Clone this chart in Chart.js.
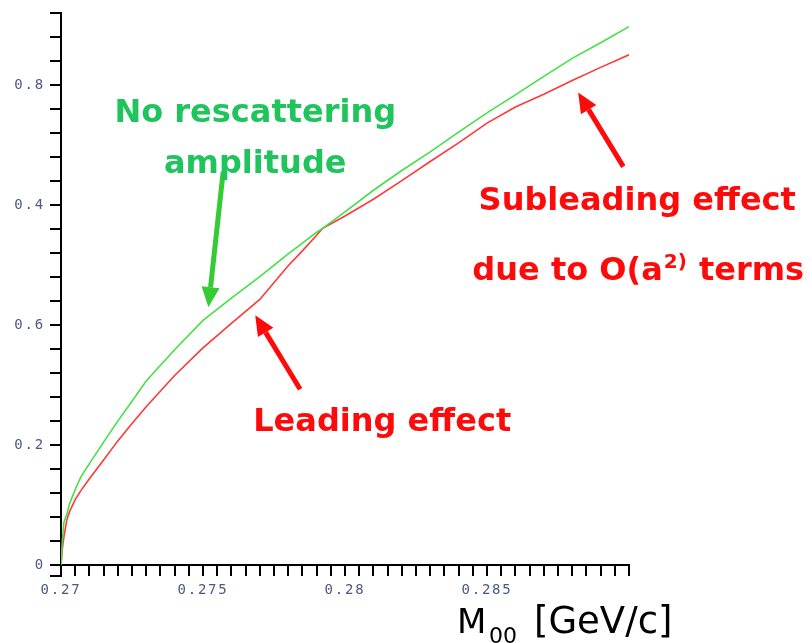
<!DOCTYPE html>
<html>
<head>
<meta charset="utf-8">
<script src="https://cdn.jsdelivr.net/npm/chart.js@4.4.1/dist/chart.umd.min.js"></script>
<style>
  html, body { margin: 0; padding: 0; background: #ffffff; }
  #wrap { width: 812px; height: 643px; }
</style>
</head>
<body>
<div id="wrap"><canvas id="grafico"></canvas></div>
<script>
// masa invariante M00 [GeV/c]
var masas = [0.27, 0.27005, 0.2701, 0.2702, 0.2703, 0.2705, 0.2707, 0.271, 0.2715, 0.272, 0.2725,
             0.273, 0.274, 0.275, 0.276, 0.277, 0.278, 0.2785, 0.279, 0.2792, 0.28, 0.281, 0.282,
             0.283, 0.284, 0.285, 0.286, 0.287, 0.288, 0.289, 0.29];

// sin amplitud de reescattering (verde)
var sinReesc = [0, 0.041, 0.071, 0.084, 0.102, 0.126, 0.147, 0.169, 0.205, 0.240, 0.273,
                0.307, 0.359, 0.408, 0.445, 0.481, 0.519, 0.537, 0.555, 0.561, 0.589, 0.625, 0.658,
                0.689, 0.722, 0.754, 0.784, 0.815, 0.845, 0.871, 0.898];

// efecto dominante + subdominante O(a^2) (rojo)
var conReesc = [0, 0.028, 0.046, 0.074, 0.089, 0.109, 0.124, 0.144, 0.175, 0.207, 0.236,
                0.264, 0.316, 0.362, 0.403, 0.443, 0.499, 0.524, 0.550, 0.561, 0.582, 0.610, 0.641,
                0.673, 0.704, 0.737, 0.764, 0.785, 0.808, 0.830, 0.851];

var ticksX = [0.27, 0.275, 0.28, 0.285];          // marcas con texto en X
var ticksY = [0, 0.2, 0.4, 0.6, 0.8];              // posiciones con texto en Y
var etiquetasY = ['0', '0.2', '0.6', '0.4', '0.8']; // texto tal cual aparece en el eje

var VERDE_TXT = '#1fc45c';
var VERDE_FLECHA = '#33cc33';
var ROJO = '#ff0a0a';

// notas y flechas en coordenadas de datos
var notas = [
  { texto: 'No rescattering', x: 0.27684, y: 0.739, color: VERDE_TXT },
  { texto: 'amplitude',       x: 0.27684, y: 0.653, color: VERDE_TXT },
  { texto: 'Subleading effect', x: 0.29029, y: 0.592, color: ROJO },
  { texto: 'Leading effect',  x: 0.28131, y: 0.223, color: ROJO }
];
var flechas = [
  { desde: [0.27571, 0.656], hasta: [0.27519, 0.430], color: VERDE_FLECHA },
  { desde: [0.27842, 0.293], hasta: [0.27684, 0.4165], color: ROJO },
  { desde: [0.2898, 0.6645], hasta: [0.28821, 0.788], color: ROJO }
];

function puntos(ys) {
  return masas.map(function (m, i) { return { x: m, y: ys[i] }; });
}

function cerca(lista, v) {
  for (var i = 0; i < lista.length; i++) {
    if (Math.abs(lista[i] - v) < 1e-7) return i;
  }
  return -1;
}

function flecha(ctx, x0, y0, x1, y1, color) {
  var ang = Math.atan2(y1 - y0, x1 - x0);
  var largo = 20, ancho = 9;
  var bx = x1 - largo * Math.cos(ang), by = y1 - largo * Math.sin(ang);
  ctx.strokeStyle = color;
  ctx.fillStyle = color;
  ctx.lineWidth = 5;
  ctx.lineCap = 'butt';
  ctx.beginPath();
  ctx.moveTo(x0, y0);
  ctx.lineTo(bx, by);
  ctx.stroke();
  ctx.beginPath();
  ctx.moveTo(x1, y1);
  ctx.lineTo(bx + ancho * Math.sin(ang), by - ancho * Math.cos(ang));
  ctx.lineTo(bx - ancho * Math.sin(ang), by + ancho * Math.cos(ang));
  ctx.closePath();
  ctx.fill();
}

var anotaciones = {
  id: 'anotaciones',
  beforeDraw: function (chart) { chart.ctx.letterSpacing = '1.8px'; },
  afterDraw: function (chart) {
    var ctx = chart.ctx;
    var sx = chart.scales.x, sy = chart.scales.y;
    var area = chart.chartArea;
    ctx.save();
    ctx.letterSpacing = '0px';

    // el eje Y sobresale un poco por debajo del eje X
    ctx.strokeStyle = '#000';
    ctx.lineWidth = 2;
    ctx.beginPath();
    ctx.moveTo(area.left, area.bottom);
    ctx.lineTo(area.left, area.bottom + 12);
    ctx.moveTo(area.left - 11, area.bottom + 11);
    ctx.lineTo(area.left, area.bottom + 11);
    ctx.stroke();

    flechas.forEach(function (f) {
      flecha(ctx, sx.getPixelForValue(f.desde[0]), sy.getPixelForValue(f.desde[1]),
             sx.getPixelForValue(f.hasta[0]), sy.getPixelForValue(f.hasta[1]), f.color);
    });

    ctx.font = 'bold 32px "DejaVu Sans"';
    ctx.textBaseline = 'alphabetic';
    ctx.textAlign = 'center';
    notas.forEach(function (n) {
      ctx.fillStyle = n.color;
      ctx.fillText(n.texto, sx.getPixelForValue(n.x), sy.getPixelForValue(n.y));
    });

    // "due to O(a²) terms" con superindice
    var cx = sx.getPixelForValue(0.29029), by = sy.getPixelForValue(0.476);
    var p1 = 'due to O(a', p2 = '2)', p3 = ' terms';
    ctx.font = 'bold 32px "DejaVu Sans"';
    var w1 = ctx.measureText(p1).width, w3 = ctx.measureText(p3).width;
    ctx.font = 'bold 20px "DejaVu Sans"';
    var w2 = ctx.measureText(p2).width;
    var x = cx - (w1 + w2 + w3) / 2;
    ctx.textAlign = 'left';
    ctx.fillStyle = ROJO;
    ctx.font = 'bold 32px "DejaVu Sans"';
    ctx.fillText(p1, x, by);
    ctx.font = 'bold 20px "DejaVu Sans"';
    ctx.fillText(p2, x + w1 + 1, by - 12);
    ctx.font = 'bold 32px "DejaVu Sans"';
    ctx.fillText(p3, x + w1 + w2 + 2, by);

    // titulo del eje X: M00 [GeV/c]
    ctx.fillStyle = '#000000';
    ctx.font = '34px "DejaVu Sans"';
    ctx.fillText('M', 457, 633);
    ctx.font = '22px "DejaVu Sans"';
    ctx.fillText('00', 489, 643);
    ctx.font = '37px "DejaVu Sans"';
    ctx.fillText('[GeV/c]', 534, 633);
    ctx.restore();
  }
};

var ctx = document.getElementById('grafico');
var grafico = new Chart(ctx, {
  type: 'line',
  data: {
    datasets: [{
      label: 'sin reescattering',
      data: puntos(sinReesc),
      borderColor: '#46e046',
      borderWidth: 1.6,
      pointRadius: 0,
      tension: 0
    }, {
      label: 'con reescattering',
      data: puntos(conReesc),
      borderColor: '#ff3838',
      borderWidth: 1.6,
      pointRadius: 0,
      tension: 0
    }]
  },
  options: {
    responsive: true,
    maintainAspectRatio: false,
    animation: false,
    layout: { padding: { left: 0, right: 183, top: 8, bottom: 0 } },
    plugins: { legend: { display: false }, tooltip: { enabled: false } },
    scales: {
      x: {
        type: 'linear',
        min: 0.27,
        max: 0.29,
        afterFit: function (eje) { eje.height = 78; },
        grid: { drawOnChartArea: false, color: '#000', lineWidth: 2, tickLength: 11, tickColor: '#000' },
        border: { color: '#000', width: 2 },
        ticks: {
          stepSize: 0.0005,
          autoSkip: false,
          maxRotation: 0,
          padding: 6,
          color: '#4a5a85',
          font: { family: '"DejaVu Sans Mono"', size: 14 },
          callback: function (v) {
            var i = cerca(ticksX, v);
            return i >= 0 ? String(ticksX[i]) : '';
          }
        }
      },
      y: {
        type: 'linear',
        min: 0,
        max: 0.92,
        afterFit: function (eje) { eje.width = 61; },
        grid: { drawOnChartArea: false, color: '#000', lineWidth: 2, tickLength: 11, tickColor: '#000' },
        border: { color: '#000', width: 2 },
        ticks: {
          stepSize: 0.04,
          autoSkip: false,
          padding: 5,
          color: '#4a5a85',
          font: { family: '"DejaVu Sans Mono"', size: 14 },
          callback: function (v) {
            var i = cerca(ticksY, v);
            return i >= 0 ? etiquetasY[i] : '';
          }
        }
      }
    }
  },
  plugins: [anotaciones]
});
</script>
</body>
</html>
